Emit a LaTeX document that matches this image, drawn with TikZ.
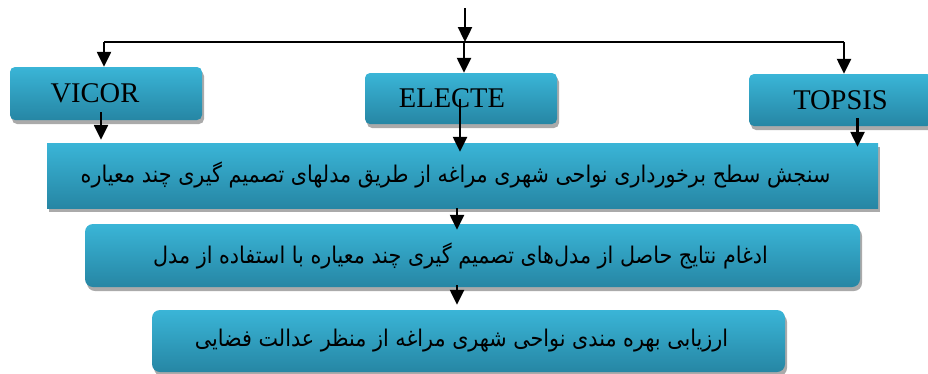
\documentclass[tikz,border=0pt]{standalone}
\usepackage{fontspec}
\setmainfont{Liberation Serif}
\newfontfamily\persfont[Script=Arabic]{DejaVu Sans}
\TeXXeTstate=1
\definecolor{flowTop}  {RGB}{ 58, 181, 215}
\definecolor{flowBot}  {RGB}{ 38, 134, 164}
\definecolor{flowShade}{RGB}{170, 170, 170}
\definecolor{flowInk}  {RGB}{  0,   0,   0}
\usetikzlibrary{
  arrows.meta,
  shadows,
}
% Persian line, set a bit narrow like the original face
\newcommand{\perline}[1]{\scalebox{0.9}[1]{\beginR #1\endR}}

\begin{document}
\begin{tikzpicture}[
  x=1pt, y=-1pt,
  >={Triangle[width=14pt, length=15pt]},
  model/.style ={rounded corners=5pt, top color=flowTop, bottom color=flowBot,
                 draw=none, text=flowInk, inner sep=0pt,
                 drop shadow={shadow xshift=2pt, shadow yshift=-4pt,
                              fill=flowShade, opacity=1},
                 font=\fontsize{28.5}{30}\selectfont},
  stage/.style ={model, font=\persfont\fontsize{23}{26}\selectfont},
  flow/.style  ={->, line width=2.4pt, color=flowInk},
  bus/.style   ={line width=2.4pt, color=flowInk},
]
  \useasboundingbox (0,0) rectangle (928,373);

  % Three methods on top, in pixel coordinates of the layout
  \node[model, minimum width=192pt, minimum height=53pt] (vicor)  at (106, 93.5)
    {VICOR\hspace*{22pt}};
  \node[model, minimum width=192pt, minimum height=51pt] (electe) at (461, 98.5)
    {ELECTE\hspace*{18pt}};
  \node[model, minimum width=183pt, minimum height=52pt] (topsis) at (840.5,100)
    {TOPSIS};

  % Stages, top to bottom
  \node[stage, rounded corners=0pt, minimum width=831pt, minimum height=65pt]
    (survey) at (462.5,175.5)
    {\perline{سنجش سطح برخورداری نواحی شهری مراغه از طریق مدلهای تصمیم گیری چند معیاره}\hspace*{14pt}};
  \node[stage, rounded corners=8pt, minimum width=775pt, minimum height=63pt]
    (merge) at (472.5,255.5)
    {\perline{ادغام نتایج حاصل از مدل‌های تصمیم گیری چند معیاره با استفاده از مدل}\hspace*{24pt}};
  \node[stage, rounded corners=8pt, minimum width=633pt, minimum height=62pt]
    (assess) at (468.5,341)
    {\perline{ارزیابی بهره مندی نواحی شهری مراغه از منظر عدالت فضایی}\hspace*{14pt}};

  % Split point and bus line
  \coordinate (start) at (465, 8);
  \coordinate (split) at (464,42);
  \coordinate (busL)  at (104,42);
  \coordinate (busR)  at (844,42);

  \draw[flow] (start) -- (start |- split);
  \draw[bus]  (busL)  -- (busR);
  \draw[flow] (busL)  -- (busL |- vicor.north);
  \draw[flow] (split) -- (split |- electe.north);
  \draw[flow] (busR)  -- (busR |- topsis.north);

  % Methods feed the first stage
  \draw[flow] ([xshift=-5pt, yshift=8pt]vicor.south)
           -- ([xshift=-5pt, yshift=3pt]vicor.south |- survey.north);
  \draw[flow] ([xshift=-1pt]electe.center)
           -- ([xshift=-1pt, yshift=-9pt]electe.center |- survey.north);
  \draw[flow] ([xshift=17pt, yshift=8pt]topsis.south)
           -- ([xshift=17pt, yshift=-4pt]topsis.south |- survey.north);

  % Stage to stage
  \draw[flow] ([xshift=-5.5pt]survey.south)
           -- ([xshift=-5.5pt, yshift=-6pt]survey.south |- merge.north);
  \draw[flow] ([xshift=-15.5pt, yshift=2pt]merge.south)
           -- ([xshift=-15.5pt, yshift=5pt]merge.south |- assess.north);
\end{tikzpicture}
\end{document}
